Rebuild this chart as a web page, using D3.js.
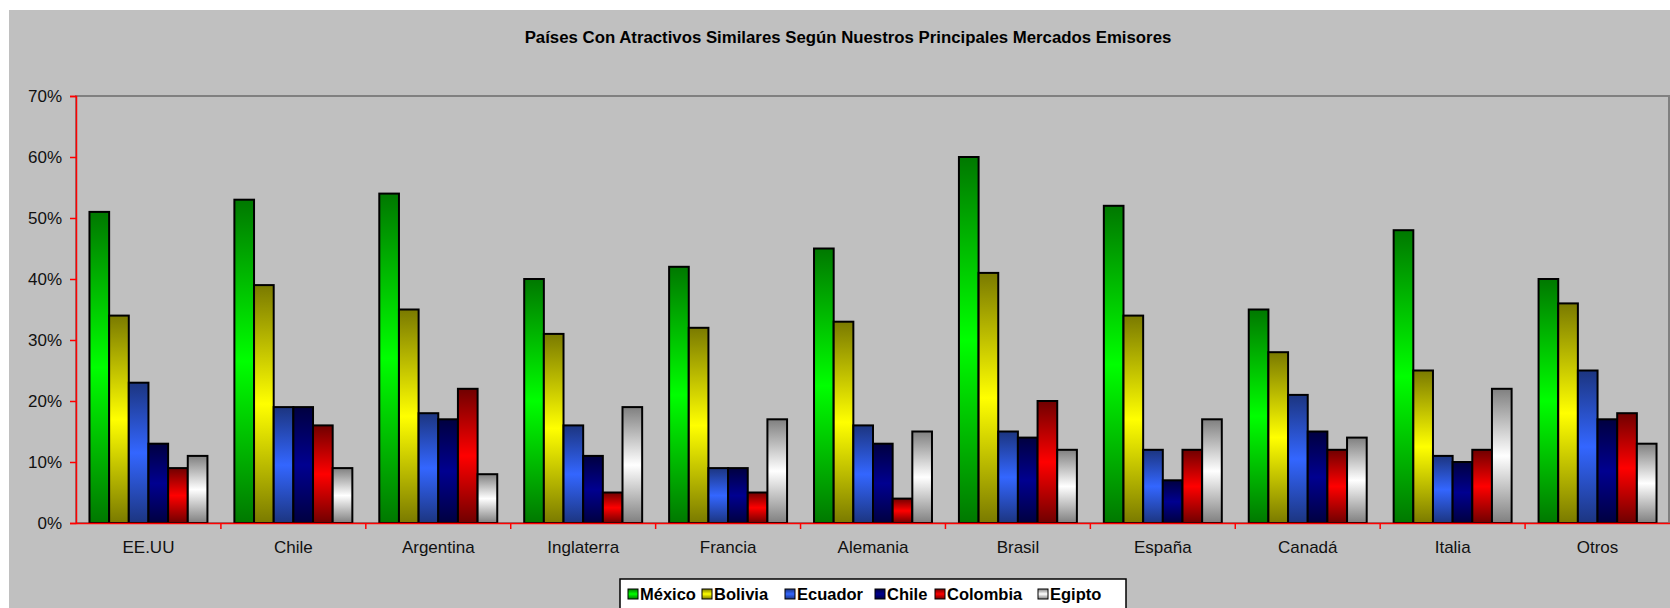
<!DOCTYPE html>
<html lang="es">
<head>
<meta charset="UTF-8">
<title>Países Con Atractivos Similares</title>
<script src="https://d3js.org/d3.v7.min.js"></script>
<style>
  body { margin: 0; background: #ffffff; font-family: "Liberation Sans", Arial, sans-serif; }
  svg { display: block; }
</style>
</head>
<body>
<div id="chart"></div>
<script>
const categories = ["EE.UU", "Chile", "Argentina", "Inglaterra", "Francia", "Alemania", "Brasil", "España", "Canadá", "Italia", "Otros"];
const seriesNames = ["México", "Bolivia", "Ecuador", "Chile", "Colombia", "Egipto"];
const mexico   = [51, 53, 54, 40, 42, 45, 60, 52, 35, 48, 40];
const bolivia  = [34, 39, 35, 31, 32, 33, 41, 34, 28, 25, 36];
const ecuador  = [23, 19, 18, 16, 9, 16, 15, 12, 21, 11, 25];
const chile    = [13, 19, 17, 11, 9, 13, 14, 7, 15, 10, 17];
const colombia = [9, 16, 22, 5, 5, 4, 20, 12, 12, 12, 18];
const egipto   = [11, 9, 8, 19, 17, 15, 12, 17, 14, 22, 13];
const yTicks = [0, 10, 20, 30, 40, 50, 60, 70];

const seriesValues = [mexico, bolivia, ecuador, chile, colombia, egipto];
// edge colour, centre colour of each bar gradient
const shades = [
  ["#007800", "#00ff00"],
  ["#7a7a00", "#ffff00"],
  ["#1c3580", "#3366ff"],
  ["#000040", "#000090"],
  ["#700000", "#ff0000"],
  ["#808080", "#ffffff"]
];

const W = 1670, H = 608;
const margin = { left: 76, right: 0, top: 96, bottom: 85 };

const svg = d3.select("#chart").append("svg")
  .attr("width", W).attr("height", H);

const defs = svg.append("defs");
shades.forEach((s, i) => {
  const g = defs.append("linearGradient")
    .attr("id", "grad" + i)
    .attr("x1", 0).attr("y1", 0).attr("x2", 0).attr("y2", 1);
  g.append("stop").attr("offset", "0%").attr("stop-color", s[0]);
  g.append("stop").attr("offset", "50%").attr("stop-color", s[1]);
  g.append("stop").attr("offset", "100%").attr("stop-color", s[0]);
});

// chart area background
svg.append("rect")
  .attr("x", 9).attr("y", 10)
  .attr("width", W - 9).attr("height", H - 10)
  .attr("fill", "#c0c0c0");

svg.append("text")
  .attr("x", 848).attr("y", 43)
  .attr("text-anchor", "middle")
  .attr("font-size", 16.8)
  .attr("font-weight", "bold")
  .attr("fill", "#000")
  .text("Países Con Atractivos Similares Según Nuestros Principales Mercados Emisores");

const x0 = d3.scaleBand().domain(categories).range([margin.left, W - margin.right]);
const bw = x0.bandwidth();
const x1 = d3.scaleBand().domain(seriesNames).range([bw * 0.093, bw * 0.907]);
const y = d3.scaleLinear().domain([0, 70]).range([H - margin.bottom, margin.top]);

// plot area border (top / right)
svg.append("rect")
  .attr("x", margin.left).attr("y", y(70))
  .attr("width", W - margin.right - margin.left - 1)
  .attr("height", y(0) - y(70))
  .attr("fill", "none")
  .attr("stroke", "#808080")
  .attr("stroke-width", 2);

const groups = svg.append("g").selectAll("g")
  .data(categories)
  .join("g")
  .attr("transform", d => `translate(${x0(d)},0)`);

groups.selectAll("rect")
  .data((c, ci) => seriesNames.map((s, si) => ({ s, si, v: seriesValues[si][ci] })))
  .join("rect")
  .attr("x", d => x1(d.s))
  .attr("y", d => y(d.v))
  .attr("width", x1.bandwidth())
  .attr("height", d => y(0) - y(d.v))
  .attr("fill", d => `url(#grad${d.si})`)
  .attr("stroke", "#000")
  .attr("stroke-width", 2);

// axes
const yAxis = svg.append("g")
  .attr("transform", `translate(${margin.left},0)`)
  .call(d3.axisLeft(y).tickValues(yTicks).tickFormat(d => d + "%").tickSize(6).tickPadding(8));
yAxis.select(".domain").attr("stroke", "#ff0000").attr("stroke-width", 1.5);
yAxis.selectAll(".tick line").attr("stroke", "#ff0000").attr("stroke-width", 1.5);
yAxis.selectAll("text").attr("font-size", 17).attr("fill", "#111")
  .attr("font-family", "'Liberation Sans', Arial, sans-serif");

const xAxis = svg.append("g")
  .attr("transform", `translate(0,${y(0)})`)
  .call(d3.axisBottom(x0).tickSize(0).tickPadding(18));
xAxis.select(".domain").attr("stroke", "#ff0000").attr("stroke-width", 1.5);
xAxis.selectAll("text").attr("font-size", 17).attr("fill", "#111")
  .attr("font-family", "'Liberation Sans', Arial, sans-serif");

// category boundary ticks
svg.append("g").selectAll("line")
  .data(categories.slice(1))
  .join("line")
  .attr("x1", d => x0(d)).attr("x2", d => x0(d))
  .attr("y1", y(0)).attr("y2", y(0) + 6)
  .attr("stroke", "#ff0000").attr("stroke-width", 1.5);

// legend
const legendX = [628, 702, 785, 875, 935, 1038];
const legend = svg.append("g");
legend.append("rect")
  .attr("x", 620).attr("y", 579)
  .attr("width", 506).attr("height", 30)
  .attr("fill", "#ffffff")
  .attr("stroke", "#000").attr("stroke-width", 1.5);
const items = legend.selectAll("g")
  .data(seriesNames)
  .join("g")
  .attr("transform", (d, i) => `translate(${legendX[i]},594)`);
items.append("rect")
  .attr("x", 0).attr("y", -5)
  .attr("width", 10).attr("height", 10)
  .attr("fill", (d, i) => `url(#grad${i})`)
  .attr("stroke", "#000").attr("stroke-width", 1);
items.append("text")
  .attr("x", 12).attr("y", 6)
  .attr("font-size", 16.5)
  .attr("font-weight", "bold")
  .attr("fill", "#000")
  .text(d => d);
</script>
</body>
</html>
